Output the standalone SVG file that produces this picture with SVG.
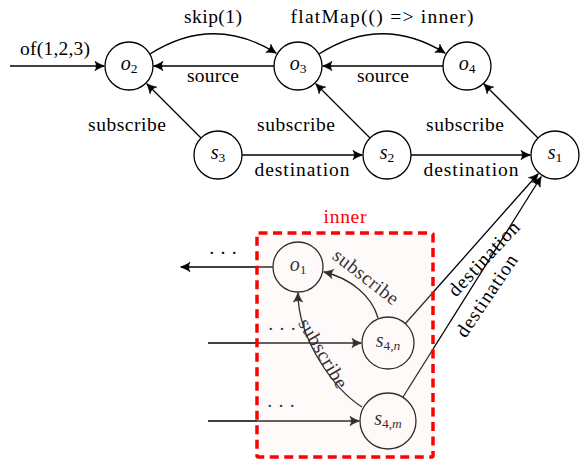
<svg xmlns="http://www.w3.org/2000/svg" width="580" height="465" viewBox="0 0 580 465">
<style>
text{font-family:"Liberation Serif","Times New Roman",serif;font-size:19.5px;fill:#000}
.node circle{fill:none;stroke:#000;stroke-width:1.3}
.nl{font-style:italic;text-anchor:middle;font-size:20px}
.sub{font-style:normal;font-size:13.5px}
.subi{font-style:italic;font-size:13.5px}
.lbl{text-anchor:middle}
.edge{fill:none;stroke:#000;stroke-width:1.3;marker-end:url(#arr)}
</style>
<defs>
<marker id="arr" viewBox="-1 -1 12 12" refX="9.5" refY="5" markerWidth="12" markerHeight="12" markerUnits="userSpaceOnUse" orient="auto">
<path d="M10,5 C7.5,4.2 3,2.2 0.5,0.3 C2.3,2.8 2.3,7.2 0.5,9.7 C3,7.8 7.5,5.8 10,5 Z" fill="#000" stroke="#000" stroke-width="0.7" stroke-linejoin="round"/>
</marker>
</defs>

<g id="connectors">
<path class="edge" d="M10,66 L104,66"/>
<path class="edge" d="M150,54 Q213,14 276,53"/>
<path class="edge" d="M319,54 Q382,14 445,53"/>
<path class="edge" d="M274,66 L154,66"/>
<path class="edge" d="M443,66 L323,66"/>
<path class="edge" d="M201,138 L147,84"/>
<path class="edge" d="M370,138 L316,84"/>
<path class="edge" d="M538,138 L484,84"/>
<path class="edge" d="M242,155 L362,155"/>
<path class="edge" d="M411,155 L530,155"/>
<path class="edge" d="M273,267 L181,267"/>
<path class="edge" d="M208,343 L361,343"/>
<path class="edge" d="M208,421 L359,421"/>
<path class="edge" d="M378,318 C372,296 350,278 324,272"/>
<path class="edge" d="M362,407 C335,390 298,340 298,293"/>
<path class="edge" d="M405,324 L538,174"/>
<path class="edge" d="M403,397 L541,177"/>
</g>

<g id="labels">
<text class="lbl" x="55" y="55" textLength="70">of(1,2,3)</text>
<text class="lbl" x="213" y="23" textLength="58">skip(1)</text>
<text class="lbl" x="382" y="23" textLength="183">flatMap(() =&gt; inner)</text>
<text class="lbl" x="213" y="82" textLength="52">source</text>
<text class="lbl" x="383" y="82" textLength="52">source</text>
<text class="lbl" x="127" y="131" textLength="78">subscribe</text>
<text class="lbl" x="296" y="131" textLength="78">subscribe</text>
<text class="lbl" x="465" y="131" textLength="78">subscribe</text>
<text class="lbl" x="302" y="176" textLength="95">destination</text>
<text class="lbl" x="471" y="176" textLength="95">destination</text>
<text class="lbl" x="223" y="259" font-size="14">· · ·</text>
<text class="lbl" x="282" y="335" font-size="14">· · ·</text>
<text class="lbl" x="281" y="412" font-size="14">· · ·</text>
<text class="lbl" transform="translate(365,278) rotate(38)" x="0" y="5" textLength="78">subscribe</text>
<text class="lbl" transform="translate(322,354) rotate(59)" x="0" y="5" textLength="78">subscribe</text>
<text class="lbl" transform="translate(484,259) rotate(-47)" x="0" y="6" textLength="95">destination</text>
<text class="lbl" transform="translate(487,296) rotate(-56)" x="0" y="6" textLength="95">destination</text>
</g>

<g id="o2" class="node"><circle cx="129" cy="66" r="24"/><text class="nl" x="129" y="70">o<tspan class="sub" dy="3">2</tspan></text></g>
<g id="o3" class="node"><circle cx="298" cy="66" r="24"/><text class="nl" x="298" y="70">o<tspan class="sub" dy="3">3</tspan></text></g>
<g id="o4" class="node"><circle cx="467" cy="66" r="24"/><text class="nl" x="467" y="70">o<tspan class="sub" dy="3">4</tspan></text></g>
<g id="s3" class="node"><circle cx="218" cy="155" r="24"/><text class="nl" x="218" y="159">s<tspan class="sub" dy="3">3</tspan></text></g>
<g id="s2" class="node"><circle cx="387" cy="155" r="24"/><text class="nl" x="387" y="159">s<tspan class="sub" dy="3">2</tspan></text></g>
<g id="s1" class="node"><circle cx="555" cy="155" r="24"/><text class="nl" x="555" y="159">s<tspan class="sub" dy="3">1</tspan></text></g>
<g id="o1" class="node"><circle cx="298" cy="267" r="25"/><text class="nl" x="298" y="271">o<tspan class="sub" dy="3">1</tspan></text></g>
<g id="s4n" class="node"><circle cx="388" cy="343" r="26"/><text class="nl" x="388" y="347">s<tspan class="sub" dy="3">4,</tspan><tspan class="subi">n</tspan></text></g>
<g id="s4m" class="node"><circle cx="388" cy="421" r="28"/><text class="nl" x="388" y="425">s<tspan class="sub" dy="3">4,</tspan><tspan class="subi">m</tspan></text></g>

<g id="inner">
<rect x="257" y="233" width="176" height="224" fill="#ffe6e6" fill-opacity="0.2"/>
<rect x="257" y="233" width="176" height="224" rx="1.5" fill="none" stroke="#ff0000" stroke-width="3.5" stroke-dasharray="9 5.5"/>
<text class="lbl" x="345" y="223" textLength="43" style="fill:#ff0000">inner</text>
</g>
</svg>
